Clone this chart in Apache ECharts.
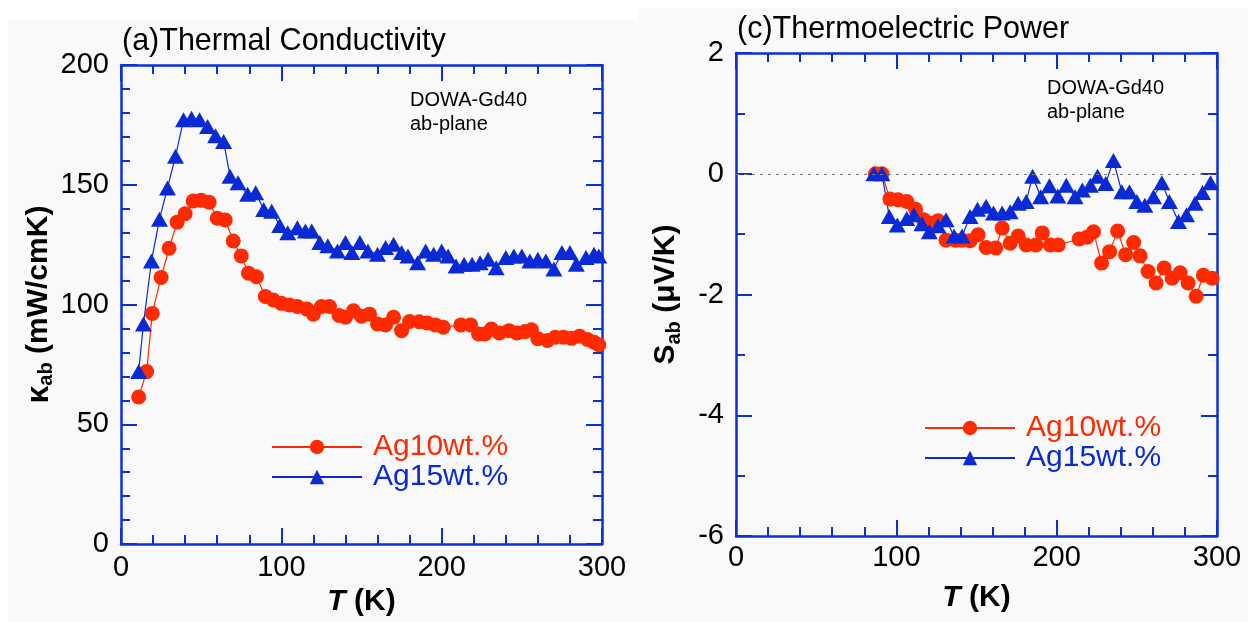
<!DOCTYPE html>
<html><head><meta charset="utf-8">
<script src="https://cdn.jsdelivr.net/npm/echarts@6/dist/echarts.min.js"></script>
<style>html,body{margin:0;padding:0;background:#fff}#c{width:1248px;height:622px}</style>
</head><body><div id="c"></div>
<script>
// ---- data: (a) thermal conductivity kappa_ab (mW/cmK) ----
const T_k10 = [11,16,19.5,25,30,35,40,45,50,55,60,65,70,75,79.5,84.5,90,95,100,105,110,116,120,125,130,136,140,145,150,155,160,165,170,175,180,186,191,196,201,212,218,223,227,231,236,242,247,252,256,260,266,271,276,281,286,291,295,298];
const k10   = [61.4,72,96.3,111.3,123.5,134.4,137.9,143.2,143.5,142.7,136,135.3,126.5,120.3,113.1,111.6,103.4,101.9,100.5,99.8,99.2,98.1,96,99.2,99.2,95.4,94.7,97.4,95.1,96,91.9,91.5,94.7,89.1,92.9,92.8,92.3,91.5,90.5,91.5,91.5,87.7,87.7,89.8,88.1,89.1,88.1,88.7,89.5,85.7,85,86.4,86.4,85.9,86.8,85.4,84.3,83.2];
const T_k15 = [11,14,19,24,29,34,39,44,49,54,59,64,68,73,79,84,89,94,99,104,110,115,119,124,129,135,140,144,149,154,160,165,170,175,179,185,190,195,200,204,209,214,219,224,229,234,240,245,250,255,260,265,270,275,280,284,290,295,298];
const k15   = [72,91.9,118.2,135.6,148.7,161.9,177.1,177.8,177.1,174.3,170.5,168.1,153.6,150.8,146,146.7,139.7,139,133,130,132.1,130.7,130.7,125.9,124.5,122.4,125.9,121.7,125.9,122.4,121,123.8,125.2,121.7,120.3,117.5,122.4,121,122.4,120.3,116.1,116.8,116.8,117.5,118.9,115.4,119.6,120.3,120.3,118.2,118.9,118.2,114.8,121.7,121.7,116.8,119.6,121,120.3];
// ---- data: (c) thermoelectric power S_ab (uV/K) ----
const T_s10 = [87,91,96,101,106.5,112,117,121.5,126,131,137,141,146,151,156,162,166,171,176,181,187,191,196,201,214,219,223,228,233,238,243,248,252,257,262,267,272,277,282,287,291.5,297];
const s10   = [0,0,-0.42,-0.43,-0.46,-0.59,-0.76,-0.82,-0.78,-1.1,-1.1,-1.1,-1.11,-1.01,-1.22,-1.23,-0.9,-1.15,-1.03,-1.18,-1.18,-0.98,-1.18,-1.18,-1.08,-1.05,-0.96,-1.48,-1.29,-0.95,-1.34,-1.14,-1.36,-1.62,-1.81,-1.56,-1.73,-1.64,-1.81,-2.03,-1.68,-1.73];
const T_s15 = [86,91,95.6,100.6,106.5,111,116,120.6,126,131,136,141,146,150.6,156,160.6,166,171,176,181,185,190,195.5,200.7,206,211.5,216,221,225.5,230.6,235.4,240.6,245.4,250,255,260.4,265.6,270.3,276,281,286.3,291,296];
const s15   = [0,0,-0.71,-0.85,-0.74,-0.68,-0.83,-0.96,-0.86,-0.76,-1.03,-1.03,-0.71,-0.59,-0.54,-0.65,-0.65,-0.63,-0.49,-0.46,-0.04,-0.38,-0.2,-0.37,-0.19,-0.38,-0.27,-0.19,-0.04,-0.16,0.22,-0.3,-0.3,-0.46,-0.52,-0.38,-0.15,-0.46,-0.79,-0.68,-0.49,-0.31,-0.15];
const seriesNames = ['Ag10wt.%','Ag15wt.%'];
const titles = ['(a)Thermal Conductivity','(c)Thermoelectric Power'];
const note = 'DOWA-Gd40\nab-plane';

const RED = '#ff2a00', BLUE = '#0a2ad6', AX = '#0b2fdc';
const FF = "'Liberation Sans', Arial, Helvetica, sans-serif";
const zip = (a,b) => a.map((t,i)=>[t,b[i]]);

function axisCommon(min,max,interval,minorSplit){
  return {
    min, max, interval,
    axisLine:{show:true,onZero:false,lineStyle:{color:AX,width:2.5}},
    axisTick:{show:true,inside:true,length:16,lineStyle:{color:AX,width:2}},
    minorTick:{show:true,splitNumber:minorSplit,length:9,lineStyle:{color:AX,width:2}},
    splitLine:{show:false}, minorSplitLine:{show:false}
  };
}
const xName = {
  name:'{t|T}{k| (K)}', nameLocation:'middle',
  nameTextStyle:{rich:{t:{fontFamily:FF,fontSize:30,fontWeight:'bold',fontStyle:'italic',color:'#000'},
                       k:{fontFamily:FF,fontSize:30,fontWeight:'bold',color:'#000'}}}
};
function mkLabel(margin){ return {show:true,margin,color:'#000',fontFamily:FF,fontSize:29}; }

const xAxis = [
  Object.assign(axisCommon(0,300,100,5), xName, {gridIndex:0,position:'bottom',axisLabel:mkLabel(9),nameGap:37}),
  Object.assign(axisCommon(0,300,100,5), {gridIndex:0,position:'top',axisLabel:{show:false}}),
  Object.assign(axisCommon(0,300,100,5), xName, {gridIndex:1,position:'bottom',axisLabel:mkLabel(7),nameGap:47}),
  Object.assign(axisCommon(0,300,100,5), {gridIndex:1,position:'top',axisLabel:{show:false}})
];
const yAxis = [
  Object.assign(axisCommon(0,200,50,5), {gridIndex:0,position:'left',axisLabel:mkLabel(12),
    name:'{k|κ}{s|ab}{u| (mW/cmK)}', nameLocation:'middle', nameRotate:90, nameGap:62,
    nameTextStyle:{rich:{k:{fontFamily:FF,fontSize:32,fontWeight:'bold',color:'#000'},
                         s:{fontFamily:FF,fontSize:20,fontWeight:'bold',color:'#000',padding:[16,0,0,0]},
                         u:{fontFamily:FF,fontSize:30,fontWeight:'bold',color:'#000'}}}}),
  Object.assign(axisCommon(0,200,50,5), {gridIndex:0,position:'right',axisLabel:{show:false}}),
  Object.assign(axisCommon(-6,2,2,2), {gridIndex:1,position:'left',axisLabel:mkLabel(12),
    name:'{k|S}{s|ab}{u| (μV/K)}', nameLocation:'middle', nameRotate:90, nameGap:52,
    nameTextStyle:{rich:{k:{fontFamily:FF,fontSize:30,fontWeight:'bold',color:'#000'},
                         s:{fontFamily:FF,fontSize:20,fontWeight:'bold',color:'#000',padding:[16,0,0,0]},
                         u:{fontFamily:FF,fontSize:30,fontWeight:'bold',color:'#000'}}}}),
  Object.assign(axisCommon(-6,2,2,2), {gridIndex:1,position:'right',axisLabel:{show:false}})
];

function ser(name,xi,yi,data,color,symbol,size,extra){
  return Object.assign({type:'line',name,xAxisIndex:xi,yAxisIndex:yi,data,symbol,symbolSize:size,
    showAllSymbol:true,itemStyle:{color,opacity:1},lineStyle:{color,width:1.2},emphasis:{disabled:true},silent:true},extra||{});
}
function legend(left,top){
  return {left,top,orient:'vertical',itemWidth:90,itemHeight:18,itemGap:0,selectedMode:false,
    textStyle:{fontFamily:FF,fontSize:30,lineHeight:30,padding:[0,0,0,6]},
    data:[{name:seriesNames[0],textStyle:{color:RED}},{name:seriesNames[1],textStyle:{color:BLUE}}]};
}

const chart = echarts.init(document.getElementById('c'),null,{renderer:'canvas'});
chart.setOption({
  animation:false,
  backgroundColor:'#f9f9f9',
  grid:[{left:121,top:65,width:481,height:481},{left:736,top:53,width:481,height:483}],
  xAxis, yAxis,
  legend:[legend(266,427),legend(919,408)],
  series:[
    ser(seriesNames[0],0,0,zip(T_k10,k10),RED,'circle',15),
    ser(seriesNames[1],0,0,zip(T_k15,k15),BLUE,'triangle',[17,15]),
    ser(seriesNames[0],2,2,zip(T_s10,s10),RED,'circle',15,{
      markLine:{silent:true,symbol:'none',label:{show:false},lineStyle:{type:[3,5],color:'#777',width:1},data:[{yAxis:0}]}}),
    ser(seriesNames[1],2,2,zip(T_s15,s15),BLUE,'triangle',[17,15])
  ],
  graphic:[
    {type:'rect',left:0,top:0,z:-10,shape:{width:620,height:20},style:{fill:'#fff'}},
    {type:'rect',left:0,top:0,z:-10,shape:{width:8,height:622},style:{fill:'#fff'}},
    {type:'rect',left:620,top:0,z:-10,shape:{width:628,height:8},style:{fill:'#fff'}},
    {type:'rect',left:620,top:0,z:-10,shape:{width:18,height:20},style:{fill:'#fff'}},
    {type:'text',left:122,top:26,style:{text:titles[0],font:"30.5px "+FF,fill:'#000'}},
    {type:'text',left:737,top:14,style:{text:titles[1],font:"30.5px "+FF,fill:'#000'}},
    {type:'text',left:410,top:88,style:{text:note,font:"20px "+FF,lineHeight:24,fill:'#000'}},
    {type:'text',left:1047,top:76,style:{text:note,font:"20px "+FF,lineHeight:24,fill:'#000'}}
  ]
});
</script></body></html>
